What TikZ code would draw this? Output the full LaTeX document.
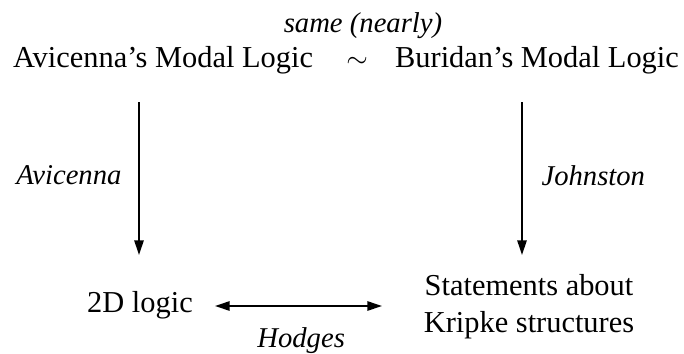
\documentclass[tikz,border=0pt]{standalone}
\usepackage{fontspec}
\setmainfont{Liberation Serif}
\usepackage{tikz}
\usetikzlibrary{arrows.meta, positioning, calc}

\begin{document}
\begin{tikzpicture}[
  x=0.75pt, y=-0.75pt,
  every node/.style={font=\fontsize{22.8}{27.8}\selectfont, inner sep=0pt},
  logic/.style={align=center},
  author/.style={font=\fontsize{21.5}{26}\selectfont\itshape},
  flow/.style={-{Triangle[length=11pt, width=7pt]}, line width=1.3pt},
  bothway/.style={{Triangle[length=11pt, width=7pt]}-{Triangle[length=11pt, width=7pt]}, line width=1.3pt},
]
  \useasboundingbox (0,0) rectangle (684,353);
  % top row
  \node[logic, anchor=base] (avml) at (163,68) {Avicenna's Modal Logic};
  \node[anchor=base] (sim) at (357,68) {$\sim$};
  \node[logic, anchor=base] (buml) at (537,68) {Buridan's Modal Logic};
  \node[author, anchor=base] (same) at (363,33) {same (nearly)};
  % bottom row
  \node[logic, anchor=base] (twod) at (140,312) {2D logic};
  \node[logic] (kripke) at (529,307) {Statements about\\Kripke structures};
  % arrow ends
  \coordinate (la1) at (139,102);
  \coordinate (la2) at (139,255);
  \coordinate (ra1) at (522,102);
  \coordinate (ra2) at (522,255);
  \coordinate (ha1) at (215,306);
  \coordinate (ha2) at (382,306);
  \draw[flow] (la1) -- node[author, pos=0.48, left=12.5pt] (avlab) {Avicenna} (la2);
  \draw[flow] (ra1) -- node[author, pos=0.48, right=14pt] (jolab) {Johnston} (ra2);
  \draw[bothway] (ha1) -- node[author, below=15.5pt, xshift=2pt] (hodges) {Hodges} (ha2);
\end{tikzpicture}
\end{document}
